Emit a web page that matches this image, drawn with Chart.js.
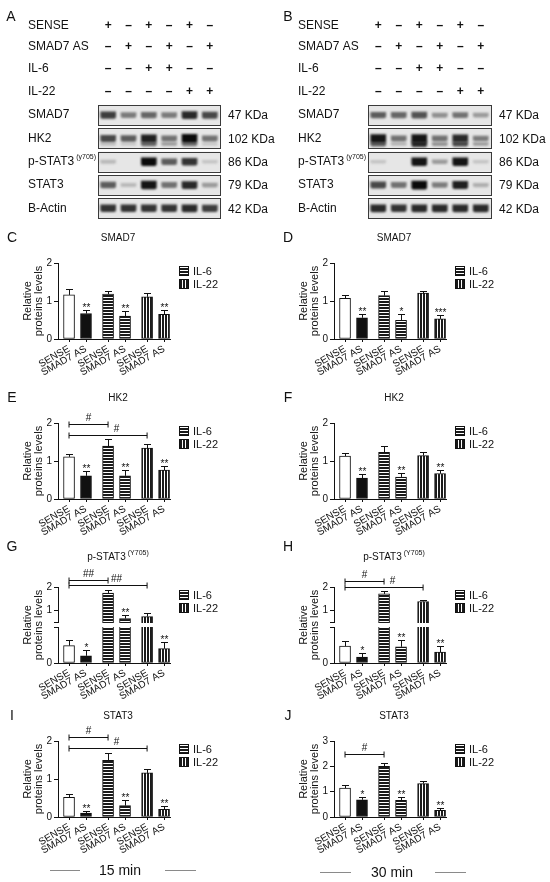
<!DOCTYPE html>
<html>
<head>
<meta charset="utf-8">
<script src="https://cdn.jsdelivr.net/npm/chart.js@4.4.0/dist/chart.umd.min.js"></script>
<style>
body { margin: 0; background: #fff; font-family: "Liberation Sans", Arial, sans-serif; }
#fig { position: relative; width: 550px; height: 882px; overflow: hidden; background: #fff; }
#fig canvas { position: absolute; }
.t { position: absolute; white-space: nowrap; color: #111; transform: translate(-50%, -50%); }
.t sup { font-size: 7px; vertical-align: 5px; margin-left: 2px; }
.linha { position: absolute; height: 1px; background: #8a8a8a; }
</style>
</head>
<body>
<div id="fig"></div>
<script>
// ---------- western blot (intensidade estimada das bandas, 0 a 1) ----------
var linhasSinal = ['SENSE', 'SMAD7 AS', 'IL-6', 'IL-22'];
var sinalSense = ['+', '–', '+', '–', '+', '–'];
var sinalAS    = ['–', '+', '–', '+', '–', '+'];
var sinalIL6   = ['–', '–', '+', '+', '–', '–'];
var sinalIL22  = ['–', '–', '–', '–', '+', '+'];
var proteinas = ['SMAD7', 'HK2', 'p-STAT3', 'STAT3', 'B-Actin'];
var pesos = ['47 KDa', '102 KDa', '86 KDa', '79 KDa', '42 KDa'];

var smad7A  = [0.75, 0.45, 0.55, 0.45, 0.85, 0.7];
var hk2A    = [0.7, 0.6, 0.9, 0.5, 1.0, 0.5];
var hk2bA   = [0.15, 0.1, 0.55, 0.3, 0.5, 0.1];
var pstat3A = [0.15, 0, 1.0, 0.6, 0.8, 0.1];
var stat3A  = [0.6, 0.15, 0.95, 0.5, 0.85, 0.3];
var actinaA = [0.8, 0.8, 0.8, 0.8, 0.85, 0.75];

var smad7B  = [0.6, 0.55, 0.65, 0.35, 0.5, 0.3];
var hk2B    = [0.95, 0.5, 0.95, 0.5, 0.85, 0.45];
var hk2bB   = [0.6, 0.2, 0.85, 0.35, 0.7, 0.3];
var pstat3B = [0.1, 0, 0.95, 0.3, 0.95, 0.1];
var stat3B  = [0.7, 0.5, 1.0, 0.45, 0.9, 0.2];
var actinaB = [0.85, 0.8, 0.85, 0.85, 0.85, 0.85];

// ---------- quantificacao ----------
var categorias = ['SENSE', 'SMAD7 AS', 'SENSE', 'SMAD7 AS', 'SENSE', 'SMAD7 AS'];
var legenda = ['IL-6', 'IL-22'];
var ticks012 = [0, 1, 2];
var ticks0123 = [0, 1, 2, 3];

var mediaC = [1.16, 0.67, 1.18, 0.60, 1.11, 0.65];
var erroC  = [0.15, 0.10, 0.09, 0.13, 0.09, 0.11];
var sigC   = ['', '**', '', '**', '', '**'];

var mediaD = [1.07, 0.56, 1.14, 0.49, 1.21, 0.53];
var erroD  = [0.09, 0.11, 0.13, 0.18, 0.05, 0.09];
var sigD   = ['', '**', '', '*', '', '***'];

var mediaE = [1.11, 0.61, 1.39, 0.61, 1.34, 0.76];
var erroE  = [0.08, 0.13, 0.18, 0.15, 0.11, 0.11];
var sigE   = ['', '**', '', '**', '', '**'];
var colchetesE = [[0, 2, 1.97, '#'], [0, 4, 1.69, '#']];

var mediaF = [1.13, 0.55, 1.23, 0.58, 1.14, 0.67];
var erroF  = [0.09, 0.12, 0.17, 0.10, 0.10, 0.10];
var sigF   = ['', '**', '', '**', '', '**'];

var mediaG = [0.29, 0.12, 1.74, 0.63, 0.71, 0.24];
var erroG  = [0.09, 0.09, 0.14, 0.15, 0.14, 0.11];
var sigG   = ['', '*', '', '**', '', '**'];
var colchetesG = [[0, 2, 2.29, '##'], [0, 4, 2.07, '##']];

var mediaH = [0.28, 0.10, 1.70, 0.27, 1.37, 0.18];
var erroH  = [0.08, 0.06, 0.11, 0.12, 0.08, 0.11];
var sigH   = ['', '*', '', '**', '', '**'];
var colchetesH = [[0, 2, 2.27, '#'], [0, 4, 2.01, '#']];

var mediaI = [0.52, 0.10, 1.49, 0.30, 1.16, 0.20];
var erroI  = [0.09, 0.07, 0.19, 0.14, 0.10, 0.09];
var sigI   = ['', '**', '', '**', '', '**'];
var colchetesI = [[0, 2, 2.10, '#'], [0, 4, 1.81, '#']];

var mediaJ = [1.14, 0.68, 2.00, 0.66, 1.32, 0.26];
var erroJ  = [0.11, 0.11, 0.14, 0.13, 0.09, 0.11];
var sigJ   = ['', '*', '', '**', '', '**'];
var colchetesJ = [[0, 2, 2.47, '#']];

// ---------- layout ----------
var FONTE = '"Liberation Sans", Arial, Helvetica, sans-serif';
var TINTA = '#111';
var posX = [0, 1, 2.3, 3.3, 4.6, 5.6];     // 3 grupos de 2 barras
var ySinais = [26, 47, 69, 92];
var LIM_INF = 0.6;                          // topo do segmento de baixo (eixo quebrado)

Chart.defaults.font.family = FONTE;
Chart.defaults.color = TINTA;

var fig = document.getElementById('fig');

function Texto(html, x, y, tam) {
    var d = document.createElement('div');
    d.className = 't';
    d.innerHTML = html;
    d.style.left = x + 'px';
    d.style.top = y + 'px';
    d.style.fontSize = tam + 'px';
    fig.appendChild(d);
}

function Linha(x1, x2, y) {
    var d = document.createElement('div');
    d.className = 'linha';
    d.style.left = x1 + 'px';
    d.style.width = (x2 - x1) + 'px';
    d.style.top = y + 'px';
    fig.appendChild(d);
}

function Padrao(horizontal) {
    var c = document.createElement('canvas');
    c.width = 3; c.height = 3;
    var g = c.getContext('2d');
    g.fillStyle = '#fff'; g.fillRect(0, 0, 3, 3);
    g.fillStyle = '#1a1a1a';
    if (horizontal) g.fillRect(0, 0, 3, 2); else g.fillRect(0, 0, 2, 3);
    return g.createPattern(c, 'repeat');
}
var padraoIL6 = Padrao(true);
var padraoIL22 = Padrao(false);
var preenchimentos = ['#ffffff', '#111111', padraoIL6, padraoIL6, padraoIL22, padraoIL22];

// eixo quebrado: 0..0.6 embaixo, 0.5..2 em cima (unidades de exibicao 0..2)
function EscalaQuebrada(v) {
    if (v <= LIM_INF) return v * (36 / LIM_INF) / 38;
    return (41.5 + (v - 0.5) * 23) / 38;
}
var QUEBRA_SUP = 41.5 / 38;

function CriarPainel(p) {
    var esc = p.quebra ? EscalaQuebrada : function (v) { return v; };
    var cv = document.createElement('canvas');
    cv.width = 250; cv.height = 160;
    cv.style.left = p.col + 'px';
    cv.style.top = (p.topo - 40) + 'px';
    fig.appendChild(cv);

    var dados = p.media.map(function (v, i) { return { x: posX[i], y: esc(v) }; });

    var anotacoes = {
        id: 'anotacoes',
        afterDatasetsDraw: function (chart) {
            var ctx = chart.ctx, x = chart.scales.x, y = chart.scales.y, ca = chart.chartArea;
            ctx.save();
            ctx.strokeStyle = TINTA; ctx.fillStyle = TINTA; ctx.lineWidth = 1;

            // barras de erro + asteriscos
            ctx.font = '10px ' + FONTE;
            ctx.textAlign = 'center'; ctx.textBaseline = 'alphabetic';
            p.media.forEach(function (m, i) {
                var px = Math.round(x.getPixelForValue(posX[i])) + 0.5;
                var y0 = y.getPixelForValue(esc(m));
                var y1 = Math.round(y.getPixelForValue(esc(m + p.erro[i]))) + 0.5;
                ctx.beginPath();
                ctx.moveTo(px, y0); ctx.lineTo(px, y1);
                ctx.moveTo(px - 3.5, y1); ctx.lineTo(px + 3.5, y1);
                ctx.stroke();
                if (p.sig[i]) ctx.fillText(p.sig[i], px, y1 + 0.5);
            });

            // colchetes de significancia
            p.colchetes.forEach(function (c) {
                var xa = x.getPixelForValue(posX[c[0]]), xb = x.getPixelForValue(posX[c[1]]);
                var yy = Math.round(y.getPixelForValue(esc(c[2]))) + 0.5;
                ctx.beginPath();
                ctx.moveTo(xa, yy); ctx.lineTo(xb, yy);
                ctx.moveTo(xa, yy - 3); ctx.lineTo(xa, yy + 3);
                ctx.moveTo(xb, yy - 3); ctx.lineTo(xb, yy + 3);
                ctx.stroke();
                var meio = c[1] - c[0] > 2 ? (posX[c[1] - 2] + posX[c[1] - 1]) / 2 : (posX[c[0]] + posX[c[1]]) / 2;
                ctx.textBaseline = 'bottom';
                ctx.fillText(c[3], x.getPixelForValue(meio), yy - 1);
            });

            // quebra do eixo
            if (p.quebra) {
                var yA = Math.round(y.getPixelForValue(EscalaQuebrada(LIM_INF))) + 0.5;
                var yB = Math.round(y.getPixelForValue(QUEBRA_SUP)) + 0.5;
                ctx.fillStyle = '#fff';
                ctx.fillRect(ca.left - 2, yB + 0.5, ca.right - ca.left + 3, yA - yB - 1);
                ctx.beginPath();
                ctx.moveTo(ca.left - 4, yA); ctx.lineTo(ca.left, yA);
                ctx.moveTo(ca.left - 4, yB); ctx.lineTo(ca.left, yB);
                ctx.stroke();
            }

            // legenda
            ctx.font = '11px ' + FONTE;
            ctx.textAlign = 'left'; ctx.textBaseline = 'middle';
            legenda.forEach(function (nome, k) {
                var bx = Math.round(ca.right) + 9, by = Math.round(ca.top) + 3 + k * 13;
                ctx.fillStyle = k === 0 ? padraoIL6 : padraoIL22;
                ctx.fillRect(bx, by, 10, 10);
                ctx.strokeRect(bx + 0.5, by + 0.5, 9, 9);
                ctx.fillStyle = TINTA;
                ctx.fillText(nome, bx + 14, by + 5.5);
            });
            ctx.restore();
        }
    };

    new Chart(cv, {
        type: 'bar',
        data: {
            datasets: [{
                data: dados,
                backgroundColor: preenchimentos,
                borderColor: TINTA,
                borderWidth: 1,
                borderSkipped: false,
                barThickness: 11
            }]
        },
        options: {
            responsive: false,
            animation: false,
            events: [],
            layout: { padding: { left: 22, top: 40, right: 80, bottom: 0 } },
            plugins: { colors: { enabled: false }, legend: { display: false }, tooltip: { enabled: false } },
            scales: {
                x: {
                    type: 'linear', min: -0.65, max: 5.95, offset: false,
                    afterBuildTicks: function (s) { s.ticks = posX.map(function (v) { return { value: v }; }); },
                    afterFit: function (s) { s.height = 44; },
                    grid: { display: true, drawOnChartArea: false, offset: false, tickLength: 3, color: TINTA },
                    border: { display: true, color: TINTA, width: 1 },
                    ticks: {
                        autoSkip: false, minRotation: 30, maxRotation: 30, padding: 1,
                        font: { size: 10 }, color: TINTA,
                        callback: function (v, i) { return categorias[i]; }
                    }
                },
                y: {
                    type: 'linear', min: 0, max: esc(p.ticks[p.ticks.length - 1]),
                    afterBuildTicks: function (s) { s.ticks = p.ticks.map(function (t) { return { value: esc(t) }; }); },
                    afterFit: function (s) { s.width = 36; },
                    grid: { display: true, drawOnChartArea: false, tickLength: 4, color: TINTA },
                    border: { display: true, color: TINTA, width: 1 },
                    ticks: {
                        padding: 2, font: { size: 10 }, color: TINTA,
                        callback: function (v, i) { return String(p.ticks[i]); }
                    },
                    title: {
                        display: true, text: ['Relative', 'proteins levels'],
                        font: { size: 11, lineHeight: 1 }, padding: 0, color: TINTA
                    }
                }
            }
        },
        plugins: [anotacoes]
    });

    var yTit = p.quebra ? p.topo - 32 : p.topo - 26;
    var yLet = p.quebra ? p.topo - 41 : p.topo - 26;
    Texto(p.letra, p.col + 12, yLet, 14);
    Texto(p.titulo + (p.sup ? '<sup>' + p.sup + '</sup>' : ''), p.col + 118, yTit, 10);
}

function Cinza(v) {
    var g = Math.round(215 - 205 * v);
    return 'rgb(' + g + ',' + g + ',' + g + ')';
}

function CriarBlot(b) {
    var cv = document.createElement('canvas');
    cv.width = 275; cv.height = 225;
    cv.style.left = b.col + 'px';
    cv.style.top = '0px';
    fig.appendChild(cv);

    var corBanda = function (c) { return c.raw ? Cinza(c.raw.v) : '#000'; };
    var meia = function (v) { return (1.2 + 2.8 * v) / 23.3; };
    var conjuntos = b.linhas.map(function (vals, r) {
        var pts = [];
        vals.forEach(function (v, f) { if (v > 0) pts.push({ x: f + 0.5, y: [r - meia(v), r + meia(v)], v: v }); });
        return { data: pts, backgroundColor: corBanda };
    });
    var inferior = [];
    b.hk2b.forEach(function (v, f) { if (v > 0) inferior.push({ x: f + 0.5, y: [1.24 - meia(v) * 0.7, 1.24 + meia(v) * 0.7], v: v }); });
    conjuntos.push({ data: inferior, backgroundColor: corBanda });

    var sinais = [sinalSense, sinalAS, sinalIL6, sinalIL22];

    var moldura = {
        id: 'moldura',
        beforeDatasetsDraw: function (chart) {
            var ctx = chart.ctx, y = chart.scales.y, ca = chart.chartArea;
            ctx.fillStyle = '#e6e6e6';
            proteinas.forEach(function (n, r) {
                var t = y.getPixelForValue(r - 0.43), bt = y.getPixelForValue(r + 0.43);
                ctx.fillRect(ca.left, t, ca.right - ca.left, bt - t);
            });
            ctx.save();
            ctx.filter = 'blur(0.9px)';
        },
        afterDatasetsDraw: function (chart) {
            var ctx = chart.ctx, x = chart.scales.x, y = chart.scales.y, ca = chart.chartArea;
            ctx.restore();
            ctx.save();
            ctx.strokeStyle = '#3a3a3a'; ctx.lineWidth = 1;
            proteinas.forEach(function (n, r) {
                var t = Math.round(y.getPixelForValue(r - 0.43)) + 0.5, bt = Math.round(y.getPixelForValue(r + 0.43)) + 0.5;
                ctx.strokeRect(Math.round(ca.left) + 0.5, t, Math.round(ca.right - ca.left), bt - t);
            });
            ctx.fillStyle = TINTA;
            ctx.textBaseline = 'middle';
            proteinas.forEach(function (n, r) {
                var yy = y.getPixelForValue(r);
                ctx.font = '12px ' + FONTE; ctx.textAlign = 'left';
                ctx.fillText(n, b.xRot, yy);
                if (n === 'p-STAT3') {
                    var w = ctx.measureText(n).width;
                    ctx.font = '7px ' + FONTE;
                    ctx.fillText('(y705)', b.xRot + w + 2, yy - 5);
                    ctx.font = '12px ' + FONTE;
                }
                ctx.fillText(pesos[r], ca.right + 8, yy + 1);
            });
            linhasSinal.forEach(function (n, k) {
                ctx.font = '12px ' + FONTE; ctx.textAlign = 'left';
                ctx.fillText(n, b.xRot, ySinais[k]);
                ctx.font = 'bold 12px ' + FONTE; ctx.textAlign = 'center';
                sinais[k].forEach(function (s, f) {
                    ctx.fillText(s, x.getPixelForValue(f + 0.5), ySinais[k]);
                });
            });
            ctx.restore();
        }
    };

    new Chart(cv, {
        type: 'bar',
        data: { datasets: conjuntos },
        options: {
            responsive: false,
            animation: false,
            events: [],
            datasets: { bar: { grouped: false, barThickness: 15, borderWidth: 0, borderRadius: 2 } },
            layout: { padding: { left: b.caixaE, right: 275 - b.caixaD, top: 103.5, bottom: 5 } },
            plugins: { colors: { enabled: false }, legend: { display: false }, tooltip: { enabled: false } },
            scales: {
                x: { type: 'linear', min: 0, max: 6, offset: false, display: false },
                y: { type: 'linear', min: -0.5, max: 4.5, reverse: true, display: false }
            }
        },
        plugins: [moldura]
    });

    Texto(b.letra, b.col + b.xLetra, 16, 14);
}

// ---------- montagem ----------
CriarBlot({ letra: 'A', col: 0, xLetra: 11, caixaE: 98, caixaD: 220, xRot: 28,
    linhas: [smad7A, hk2A, pstat3A, stat3A, actinaA], hk2b: hk2bA });
CriarBlot({ letra: 'B', col: 275, xLetra: 13, caixaE: 93, caixaD: 216, xRot: 23,
    linhas: [smad7B, hk2B, pstat3B, stat3B, actinaB], hk2b: hk2bB });

var paineis = [
    { letra: 'C', titulo: 'SMAD7', col: 0,   topo: 263, media: mediaC, erro: erroC, sig: sigC, colchetes: [], ticks: ticks012 },
    { letra: 'D', titulo: 'SMAD7', col: 276, topo: 263, media: mediaD, erro: erroD, sig: sigD, colchetes: [], ticks: ticks012 },
    { letra: 'E', titulo: 'HK2',   col: 0,   topo: 423, media: mediaE, erro: erroE, sig: sigE, colchetes: colchetesE, ticks: ticks012 },
    { letra: 'F', titulo: 'HK2',   col: 276, topo: 423, media: mediaF, erro: erroF, sig: sigF, colchetes: [], ticks: ticks012 },
    { letra: 'G', titulo: 'p-STAT3', sup: '(Y705)', col: 0,   topo: 587, quebra: true, media: mediaG, erro: erroG, sig: sigG, colchetes: colchetesG, ticks: ticks012 },
    { letra: 'H', titulo: 'p-STAT3', sup: '(Y705)', col: 276, topo: 587, quebra: true, media: mediaH, erro: erroH, sig: sigH, colchetes: colchetesH, ticks: ticks012 },
    { letra: 'I', titulo: 'STAT3', col: 0,   topo: 741, media: mediaI, erro: erroI, sig: sigI, colchetes: colchetesI, ticks: ticks012 },
    { letra: 'J', titulo: 'STAT3', col: 276, topo: 741, media: mediaJ, erro: erroJ, sig: sigJ, colchetes: colchetesJ, ticks: ticks0123 }
];
paineis.forEach(CriarPainel);

// rodape com o tempo de estimulo
Texto('15 min', 120, 870, 14);
Linha(50, 80, 870);
Linha(165, 196, 870);
Texto('30 min', 392, 872, 14);
Linha(320, 351, 872);
Linha(435, 466, 872);
</script>
</body>
</html>
